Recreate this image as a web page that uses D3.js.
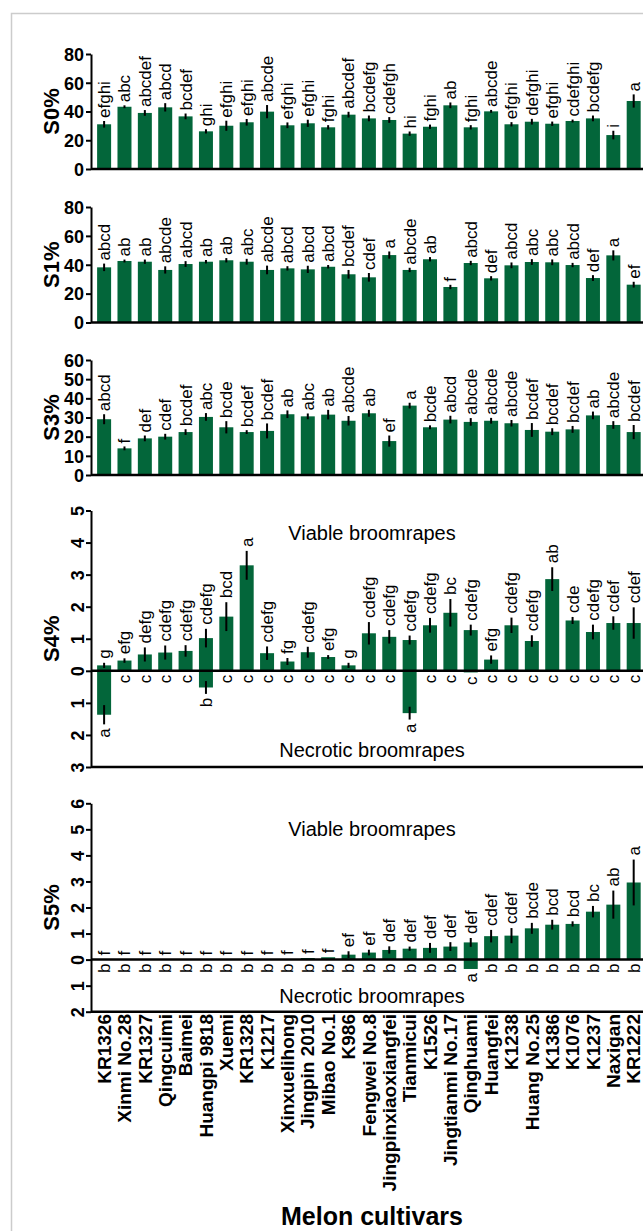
<!DOCTYPE html>
<html>
<head>
<meta charset="utf-8">
<script src="https://cdn.jsdelivr.net/npm/d3@7"></script>
<style>
  body { margin: 0; background: #fff; }
  svg { display: block; font-family: "Liberation Sans", Arial, sans-serif; }
</style>
</head>
<body>
<svg></svg>
<script>
var cultivars = ["KR1326", "Xinmi No.28", "KR1327", "Qingcuimi", "Baimei", "Huangpi 9818", "Xuemi", "KR1328", "K1217",
  "Xinxuelihong", "Jingpin 2010", "Mibao No.1", "K986", "Fengwei No.8", "Jingpinxiaoxiangfei", "Tianmicui", "K1526",
  "Jingtianmi No.17", "Qinghuami", "Huangfei", "K1238", "Huang No.25", "K1386", "K1076", "K1237", "Naxigan", "KR1222"];

// S0 (%)
var s0Values = [31.1, 43.3, 39.0, 42.9, 36.6, 26.2, 30.1, 32.5, 39.9, 30.4, 31.8, 29.0, 37.8, 35.2, 34.1, 24.6, 29.4, 44.3, 29.0, 40.1, 31.1, 32.9, 31.5, 33.4, 35.2, 23.6, 47.3];
var s0Errors = [2.3, 1.0, 2.0, 2.9, 2.0, 1.5, 3.5, 2.3, 4.6, 2.0, 2.5, 1.5, 2.0, 2.0, 2.0, 1.5, 1.5, 2.0, 1.5, 1.0, 1.5, 2.0, 1.5, 1.0, 2.0, 3.0, 4.6];
var s0Letters = ["efghi", "abc", "abcdef", "abcd", "bcdef", "ghi", "efghi", "efghi", "abcde", "efghi", "efghi", "fghi", "abcdef", "bcdefg", "cdefgh", "hi", "fghi", "ab", "fghi", "abcde", "efghi", "defghi", "efghi", "cdefghi", "bcdefg", "i", "a"];

// S1 (%)
var s1Values = [38.2, 42.6, 42.1, 36.4, 40.5, 42.1, 43.1, 42.1, 36.4, 37.5, 36.8, 38.6, 33.4, 31.3, 46.7, 36.4, 43.8, 24.6, 41.2, 30.6, 39.6, 41.9, 41.7, 39.8, 30.8, 46.5, 26.2];
var s1Errors = [2.6, 1.0, 1.5, 2.5, 2.0, 1.2, 1.5, 2.0, 3.0, 1.5, 2.5, 1.2, 3.0, 3.0, 2.5, 1.5, 1.5, 1.5, 1.5, 1.5, 2.0, 2.0, 2.0, 1.5, 2.0, 3.5, 2.0];
var s1Letters = ["abcd", "ab", "ab", "abcde", "abcd", "ab", "ab", "abc", "abcde", "abcd", "abcd", "abcd", "bcdef", "cdef", "a", "abcde", "ab", "f", "abcd", "def", "abcd", "abc", "abc", "abcd", "def", "a", "ef"];

// S3 (%)
var s3Values = [29.1, 13.9, 19.1, 20.0, 22.4, 30.3, 24.9, 22.4, 23.0, 31.7, 30.6, 31.5, 28.3, 32.2, 17.7, 36.2, 24.9, 28.9, 27.7, 28.3, 27.0, 23.5, 22.6, 23.8, 31.1, 26.1, 22.4];
var s3Errors = [2.6, 1.0, 1.5, 1.5, 1.5, 2.0, 3.2, 1.0, 3.9, 2.0, 1.5, 2.5, 2.5, 1.8, 2.9, 1.5, 1.0, 2.0, 2.0, 1.5, 1.7, 3.6, 1.8, 1.8, 2.0, 2.0, 3.7];
var s3Letters = ["abcd", "f", "def", "cdef", "bcdef", "abc", "bcde", "bcdef", "bcdef", "ab", "abc", "ab", "abcde", "ab", "ef", "a", "bcde", "abcd", "abcde", "abcde", "abcde", "bcdef", "bcdef", "bcdef", "ab", "abcde", "bcdef"];

// S4 (%): viable above, necrotic below
var s4Viable = [0.17, 0.32, 0.51, 0.57, 0.62, 1.02, 1.69, 3.29, 0.55, 0.29, 0.58, 0.43, 0.17, 1.17, 1.06, 0.96, 1.42, 1.81, 1.27, 0.35, 1.42, 0.93, 2.86, 1.57, 1.21, 1.49, 1.49];
var s4ViableErr = [0.08, 0.07, 0.22, 0.22, 0.18, 0.29, 0.45, 0.45, 0.21, 0.11, 0.17, 0.06, 0.08, 0.35, 0.21, 0.14, 0.23, 0.43, 0.17, 0.13, 0.24, 0.18, 0.37, 0.11, 0.23, 0.21, 0.49];
var s4ViableLetters = ["g", "efg", "defg", "cdefg", "cdefg", "cdefg", "bcd", "a", "cdefg", "fg", "cdefg", "efg", "g", "cdefg", "cdefg", "cdefg", "cdefg", "bc", "cdefg", "efg", "cdefg", "cdefg", "ab", "cde", "cdefg", "cdef", "cdef"];
var s4Necrotic = [1.37, 0, 0, 0, 0, 0.52, 0, 0, 0, 0, 0, 0, 0, 0, 0, 1.32, 0, 0, 0.05, 0, 0, 0, 0, 0, 0, 0, 0];
var s4NecroticErr = [0.30, 0, 0, 0, 0, 0.20, 0, 0, 0, 0, 0, 0, 0, 0, 0, 0.20, 0, 0, 0, 0, 0, 0, 0, 0, 0, 0, 0];
var s4NecroticLetters = ["a", "c", "c", "c", "c", "b", "c", "c", "c", "c", "c", "c", "c", "c", "c", "a", "c", "c", "c", "c", "c", "c", "c", "c", "c", "c", "c"];

// S5 (%)
var s5Viable = [0, 0, 0, 0, 0, 0, 0, 0, 0.01, 0.02, 0.06, 0.09, 0.19, 0.27, 0.37, 0.42, 0.45, 0.50, 0.66, 0.90, 0.92, 1.20, 1.34, 1.37, 1.84, 2.11, 2.96];
var s5ViableErr = [0, 0, 0, 0, 0, 0, 0, 0, 0, 0, 0, 0, 0.13, 0.11, 0.14, 0.08, 0.19, 0.17, 0.17, 0.24, 0.29, 0.21, 0.19, 0.10, 0.22, 0.54, 0.88];
var s5ViableLetters = ["f", "f", "f", "f", "f", "f", "f", "f", "f", "f", "f", "f", "ef", "ef", "def", "def", "def", "def", "def", "cdef", "cdef", "bcde", "bcd", "bcd", "bc", "ab", "a"];
var s5Necrotic = [0, 0, 0, 0, 0, 0, 0, 0, 0, 0, 0, 0, 0, 0, 0, 0, 0, 0, 0.36, 0, 0, 0, 0, 0, 0, 0, 0];
var s5NecroticErr = [0, 0, 0, 0, 0, 0, 0, 0, 0, 0, 0, 0, 0, 0, 0, 0, 0, 0, 0, 0, 0, 0, 0, 0, 0, 0, 0];
var s5NecroticLetters = ["b", "b", "b", "b", "b", "b", "b", "b", "b", "b", "b", "b", "b", "b", "b", "b", "b", "b", "a", "b", "b", "b", "b", "b", "b", "b", "b"];

var width = 643, height = 1231;
var barColor = "#03663a";

var svg = d3.select("svg")
    .attr("width", width)
    .attr("height", height);

// light grey frame
svg.append("path")
    .attr("d", "M11.5,1231V13.5H643")
    .attr("fill", "none")
    .attr("stroke", "#cccccc")
    .attr("stroke-width", 1.5);

var axisX = 91;
var x = d3.scaleBand()
    .domain(cultivars)
    .range([axisX, 646.8])
    .paddingInner(0.313)
    .paddingOuter(0.3);

function cx(i) { return x(cultivars[i]) + x.bandwidth() / 2; }

function yTitle(text, yMid) {
  svg.append("text")
      .attr("transform", "translate(51," + yMid + ") rotate(-90)")
      .attr("text-anchor", "middle")
      .attr("dy", "0.35em")
      .style("font-size", "22px")
      .style("font-weight", "bold")
      .text(text);
}

// error bars as plain vertical lines (zero-length ones stay invisible)
function errorBars(g, tops, bottoms) {
  g.selectAll(null)
      .data(tops)
      .enter().append("line")
      .attr("x1", function(d, i) { return cx(i); })
      .attr("x2", function(d, i) { return cx(i); })
      .attr("y1", function(d) { return d; })
      .attr("y2", function(d, i) { return bottoms[i]; })
      .attr("stroke", "#000")
      .attr("stroke-width", 2);
}

// simple panel: bars above zero, plain tick labels
function simplePanel(values, errors, letters, top, bottom, max, step, title) {
  var y = d3.scaleLinear().domain([0, max]).range([bottom, top]);
  var g = svg.append("g");

  g.selectAll(null)
      .data(values)
      .enter().append("rect")
      .attr("x", function(d, i) { return x(cultivars[i]); })
      .attr("width", x.bandwidth())
      .attr("y", function(d) { return y(d); })
      .attr("height", function(d) { return y(0) - y(d); })
      .attr("fill", barColor);

  errorBars(g,
    values.map(function(d, i) { return y(d + errors[i]); }),
    values.map(function(d, i) { return y(d - errors[i]); }));

  g.selectAll(null)
      .data(values)
      .enter().append("text")
      .attr("transform", function(d, i) { return "translate(" + cx(i) + "," + (y(d + errors[i]) - 3) + ") rotate(-90)"; })
      .attr("dy", "0.35em")
      .attr("text-anchor", "start")
      .style("font-size", "17px")
      .text(function(d, i) { return letters[i]; });

  var ax = g.append("g")
      .attr("transform", "translate(" + axisX + ",0)")
      .call(d3.axisLeft(y).tickValues(d3.range(0, max + 1, step)).tickSize(5).tickSizeOuter(0).tickPadding(2));
  ax.select(".domain").attr("stroke-width", 2);
  ax.selectAll(".tick line").attr("stroke-width", 2);
  ax.selectAll("text")
      .attr("dy", "0.35em")
      .style("font-size", "18px")
      .style("font-weight", "bold")
      .style("font-family", "'Liberation Sans', Arial, sans-serif");

  g.append("line")
      .attr("x1", axisX).attr("x2", width)
      .attr("y1", y(0)).attr("y2", y(0))
      .attr("stroke", "#000")
      .attr("stroke-width", 2.5);

  yTitle(title, (top + bottom) / 2);
}

// split panel: viable up, necrotic down, rotated tick labels
function splitPanel(viable, viableErr, viableLetters, necrotic, necroticErr, necroticLetters, top, bottom, min, max, title, upperTextY, lowerTextY) {
  var y = d3.scaleLinear().domain([-min, max]).range([bottom, top]);
  var g = svg.append("g");

  g.selectAll(null)
      .data(viable)
      .enter().append("rect")
      .attr("x", function(d, i) { return x(cultivars[i]); })
      .attr("width", x.bandwidth())
      .attr("y", function(d) { return y(d); })
      .attr("height", function(d) { return y(0) - y(d); })
      .attr("fill", barColor);

  g.selectAll(null)
      .data(necrotic)
      .enter().append("rect")
      .attr("x", function(d, i) { return x(cultivars[i]); })
      .attr("width", x.bandwidth())
      .attr("y", y(0))
      .attr("height", function(d) { return y(-d) - y(0); })
      .attr("fill", barColor);

  errorBars(g,
    viable.map(function(d, i) { return y(d + viableErr[i]); }),
    viable.map(function(d, i) { return y(d - viableErr[i]); }));
  errorBars(g,
    necrotic.map(function(d, i) { return y(-d + necroticErr[i]); }),
    necrotic.map(function(d, i) { return y(-d - necroticErr[i]); }));

  g.selectAll(null)
      .data(viable)
      .enter().append("text")
      .attr("transform", function(d, i) { return "translate(" + cx(i) + "," + (y(d + viableErr[i]) - 4) + ") rotate(-90)"; })
      .attr("dy", "0.35em")
      .attr("text-anchor", "start")
      .style("font-size", "17px")
      .text(function(d, i) { return viableLetters[i]; });

  g.selectAll(null)
      .data(necrotic)
      .enter().append("text")
      .attr("transform", function(d, i) { return "translate(" + cx(i) + "," + (y(-d - necroticErr[i]) + 4) + ") rotate(-90)"; })
      .attr("dy", "0.35em")
      .attr("text-anchor", "end")
      .style("font-size", "17px")
      .text(function(d, i) { return necroticLetters[i]; });

  var ax = g.append("g")
      .attr("transform", "translate(" + axisX + ",0)")
      .call(d3.axisLeft(y).tickValues(d3.range(-min, max + 1, 1)).tickSize(5).tickSizeOuter(0)
        .tickFormat(function(d) { return Math.abs(d); }));
  ax.select(".domain").attr("stroke-width", 2);
  ax.selectAll(".tick line").attr("stroke-width", 2);
  ax.selectAll("text")
      .attr("x", null)
      .attr("dy", "0.35em")
      .attr("text-anchor", "middle")
      .attr("transform", "translate(-13,0) rotate(-90)")
      .style("font-size", "18px")
      .style("font-weight", "bold")
      .style("font-family", "'Liberation Sans', Arial, sans-serif");

  // zero line and bottom line
  g.selectAll(null)
      .data([0, -min])
      .enter().append("line")
      .attr("x1", axisX).attr("x2", width)
      .attr("y1", function(d) { return y(d); })
      .attr("y2", function(d) { return y(d); })
      .attr("stroke", "#000")
      .attr("stroke-width", 2.5);

  g.append("text")
      .attr("x", 372).attr("y", upperTextY)
      .attr("text-anchor", "middle")
      .attr("dy", "0.35em")
      .style("font-size", "20px")
      .text("Viable broomrapes");

  g.append("text")
      .attr("x", 372).attr("y", lowerTextY)
      .attr("text-anchor", "middle")
      .attr("dy", "0.35em")
      .style("font-size", "20px")
      .text("Necrotic broomrapes");

  yTitle(title, (top + bottom) / 2);
}

simplePanel(s0Values, s0Errors, s0Letters, 54, 169, 80, 20, "S0%");
simplePanel(s1Values, s1Errors, s1Letters, 207, 322.5, 80, 20, "S1%");
simplePanel(s3Values, s3Errors, s3Letters, 360, 475, 60, 10, "S3%");
splitPanel(s4Viable, s4ViableErr, s4ViableLetters, s4Necrotic, s4NecroticErr, s4NecroticLetters, 510.5, 767, 3, 5, "S4%", 533, 750);
splitPanel(s5Viable, s5ViableErr, s5ViableLetters, s5Necrotic, s5NecroticErr, s5NecroticLetters, 803.3, 1011.7, 2, 6, "S5%", 829, 996);

// cultivar names
svg.selectAll(null)
    .data(cultivars)
    .enter().append("text")
    .attr("transform", function(d, i) { return "translate(" + cx(i) + ",1014) rotate(-90)"; })
    .attr("dy", "0.35em")
    .attr("text-anchor", "end")
    .style("font-size", "19px")
    .style("font-weight", "bold")
    .text(function(d) { return d; });

svg.append("text")
    .attr("x", 372)
    .attr("y", 1225)
    .attr("text-anchor", "middle")
    .style("font-size", "25px")
    .style("font-weight", "bold")
    .text("Melon cultivars");
</script>
</body>
</html>
